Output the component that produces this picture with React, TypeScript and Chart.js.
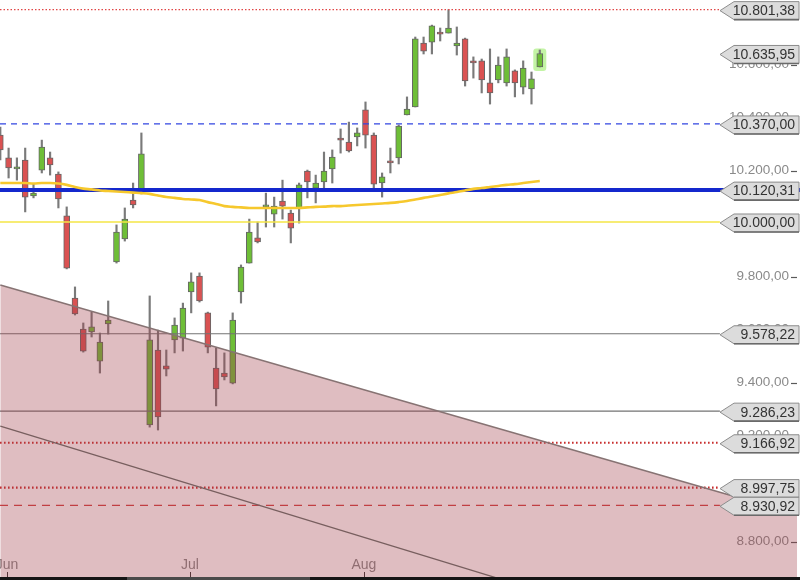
import React, { useEffect, useRef } from "react";
import { Chart, registerables } from "chart.js";

Chart.register(...registerables);

// ---- data ----
const OPEN = [10328, 10242, 10200, 10234, 10098, 10196, 10242, 10181, 10023, 9713, 9596, 9585, 9475, 9615, 9849, 9936, 10083, 10113, 9234, 9517, 9457, 9555, 9562, 9736, 9796, 9657, 9449, 9430, 9392, 9736, 9845, 9940, 10057, 10030, 10079, 10034, 10053, 10192, 10128, 10151, 10200, 10317, 10302, 10321, 10423, 10328, 10147, 10230, 10242, 10404, 10434, 10675, 10679, 10717, 10713, 10664, 10691, 10608, 10608, 10525, 10536, 10525, 10570, 10509, 10502, 10585];
const HIGH = [10358, 10279, 10242, 10279, 10143, 10309, 10264, 10189, 10057, 9755, 9619, 9660, 9581, 9702, 9989, 10053, 10147, 10336, 9721, 9592, 9517, 9638, 9694, 9808, 9808, 9660, 9525, 9506, 9657, 9838, 10011, 10000, 10109, 10094, 10158, 10045, 10147, 10196, 10177, 10264, 10272, 10351, 10377, 10355, 10453, 10336, 10185, 10279, 10366, 10472, 10698, 10698, 10743, 10732, 10801.38, 10736, 10694, 10623, 10615, 10653, 10623, 10653, 10574, 10608, 10566, 10649];
const LOW = [10234, 10166, 10158, 10038, 10091, 10185, 10177, 10053, 9823, 9649, 9509, 9566, 9430, 9577, 9845, 9928, 10053, 10106, 9226, 9215, 9419, 9506, 9513, 9657, 9698, 9506, 9306, 9404, 9389, 9694, 9845, 9921, 9981, 9981, 10011, 9921, 9996, 10091, 10072, 10121, 10147, 10260, 10264, 10287, 10279, 10128, 10094, 10185, 10219, 10404, 10434, 10634, 10634, 10683, 10713, 10630, 10513, 10543, 10487, 10445, 10525, 10513, 10472, 10483, 10445, 10585];
const CLOSE = [10272, 10204, 10208, 10094, 10109, 10283, 10215, 10087, 9826, 9653, 9513, 9604, 9547, 9630, 9962, 10011, 10064, 10257, 9555, 9264, 9445, 9611, 9675, 9774, 9702, 9528, 9370, 9415, 9630, 9830, 9962, 9925, 10064, 10060, 10060, 9977, 10140, 10151, 10147, 10192, 10245, 10309, 10268, 10336, 10328, 10143, 10170, 10223, 10362, 10426, 10691, 10645, 10740, 10709, 10732, 10675, 10532, 10600, 10536, 10487, 10592, 10623, 10525, 10581, 10540, 10635.95];
const MOVING_AVG = [10147, 10147, 10147, 10147, 10145, 10147, 10147, 10145, 10140, 10132, 10126, 10123, 10119, 10117, 10115, 10113, 10111, 10109, 10106, 10100, 10094, 10091, 10087, 10085, 10083, 10075, 10068, 10060, 10057, 10055, 10053, 10053, 10053, 10053, 10053, 10053, 10053, 10055, 10057, 10058, 10060, 10060, 10062, 10064, 10066, 10068, 10070, 10072, 10075, 10079, 10085, 10091, 10096, 10102, 10108, 10113, 10119, 10125, 10128, 10132, 10136, 10140, 10143, 10147, 10151, 10155];

const Y_TICKS = [8800, 9000, 9200, 9400, 9600, 9800, 10000, 10200, 10400, 10600, 10800];
const MONTH_LABELS = ["Jun", "Jul", "Aug"];
const MONTH_TICKS = [0.8, 22.85, 43.8];

const LEVELS = [10801.38, 10635.95, 10370.0, 10120.31, 10000.0, 9578.22, 9286.23, 9166.92, 8997.75, 8930.92];

const CHANNEL_UPPER_X = [0, 96];
const CHANNEL_UPPER_Y = [9762, 8896];
const CHANNEL_LOWER_X = [0, 60];
const CHANNEL_LOWER_Y = [9230, 8655];

// ---- layout ----
const X_MIN = -0.036;
const X_MAX = 96.35;
const Y_MIN = 8660.4;
const Y_MAX = 10837.7;
const LINE_END = 86.7;

const FONT = "'Liberation Sans', Arial, sans-serif";
const GREEN = "rgb(110,190,55)";
const RED = "rgb(218,82,82)";

// style per level (index-aligned with LEVELS); null = no line
const LEVEL_STYLES: ({ color: string; width: number; dash: number[]; full?: boolean } | null)[] = [
  { color: "rgb(225,70,70)", width: 1.2, dash: [1.5, 2] },
  null,
  { color: "rgb(50,70,225)", width: 1.3, dash: [6, 5] },
  { color: "rgb(20,40,205)", width: 4, dash: [], full: true },
  { color: "rgb(245,230,70)", width: 1.5, dash: [] },
  { color: "rgb(115,115,115)", width: 1.2, dash: [] },
  { color: "rgb(115,115,115)", width: 1.2, dash: [] },
  { color: "rgb(200,45,45)", width: 2.2, dash: [1.6, 2.4] },
  { color: "rgb(200,45,45)", width: 2.2, dash: [1.6, 2.4] },
  { color: "rgb(210,65,65)", width: 1.2, dash: [8, 6] },
];

function fmt(v: number): string {
  const s = v.toFixed(2);
  const [i, d] = s.split(".");
  return i.replace(/\B(?=(\d{3})+(?!\d))/g, ".") + "," + d;
}

const decorPlugin = {
  id: "decor",
  beforeDatasetsDraw(chart: any) {
    const { ctx, scales } = chart;
    const x = scales.x;
    const y = scales.y;
    ctx.save();
    // glow around the last candle
    const last = OPEN.length - 1;
    const gx = x.getPixelForValue(last);
    const gt = y.getPixelForValue(Math.max(OPEN[last], CLOSE[last]));
    const gb = y.getPixelForValue(Math.min(OPEN[last], CLOSE[last]));
    ctx.fillStyle = "rgba(175,240,135,0.75)";
    ctx.beginPath();
    (ctx as any).roundRect(gx - 6.5, gt - 5, 13, gb - gt + 9, 3);
    ctx.fill();

    // y tick labels
    ctx.font = "13.5px " + FONT;
    ctx.textAlign = "right";
    ctx.textBaseline = "middle";
    for (const v of Y_TICKS) {
      const py = y.getPixelForValue(v);
      ctx.fillStyle = "#8a8a8a";
      ctx.fillText(fmt(v), 789, py + 1.5);
      ctx.strokeStyle = "#5a5a5a";
      ctx.lineWidth = 1.2;
      ctx.beginPath();
      ctx.moveTo(791, py + 2.5);
      ctx.lineTo(797, py + 2.5);
      ctx.stroke();
    }
    // month labels
    ctx.font = "14px " + FONT;
    ctx.textAlign = "center";
    ctx.textBaseline = "alphabetic";
    MONTH_TICKS.forEach((m, k) => {
      const px = x.getPixelForValue(m);
      ctx.fillStyle = "#888";
      ctx.fillText(MONTH_LABELS[k], px, 569);
      ctx.strokeStyle = "#333";
      ctx.lineWidth = 1;
      ctx.beginPath();
      ctx.moveTo(Math.round(px) + 0.5, 572);
      ctx.lineTo(Math.round(px) + 0.5, 577);
      ctx.stroke();
    });
    ctx.restore();
  },
  afterDraw(chart: any) {
    const { ctx, scales } = chart;
    const y = scales.y;
    ctx.save();
    // price tags
    const tip = 720;
    const bx = 734;
    const right = 799;
    const h = 18;
    for (const v of LEVELS) {
      const c = y.getPixelForValue(v) + 1;
      ctx.beginPath();
      ctx.moveTo(tip, c);
      ctx.lineTo(bx, c - h / 2);
      ctx.lineTo(right, c - h / 2);
      ctx.lineTo(right, c + h / 2);
      ctx.lineTo(bx, c + h / 2);
      ctx.closePath();
      ctx.fillStyle = "#dcdcdc";
      ctx.fill();
      ctx.strokeStyle = "#8c8c8c";
      ctx.lineWidth = 1;
      ctx.stroke();
      ctx.strokeStyle = "#6a6a6a";
      ctx.lineWidth = 1.6;
      ctx.beginPath();
      ctx.moveTo(bx, c + h / 2);
      ctx.lineTo(right, c + h / 2);
      ctx.stroke();
      ctx.fillStyle = "#333";
      ctx.font = "14px " + FONT;
      ctx.textAlign = "right";
      ctx.textBaseline = "middle";
      ctx.fillText(fmt(v), 795, c + 0.5);
    }
    // bottom bar
    ctx.fillStyle = "#151515";
    ctx.fillRect(0, 577, 800, 3);
    ctx.fillStyle = "#4a4a4a";
    ctx.fillRect(127, 577, 183, 3);
    ctx.restore();
  },
};

export default function App() {
  const ref = useRef<HTMLCanvasElement>(null);

  useEffect(() => {
    document.body.style.margin = "0";
    const canvas = ref.current;
    if (!canvas) return;
    Chart.defaults.font.family = FONT;

    const idx = OPEN.map((_, i) => i);
    const wickData = idx.map((i) => ({ x: i, y: [LOW[i], HIGH[i]] }));
    const bodyData = idx.map((i) => ({ x: i, y: [OPEN[i], CLOSE[i]] }));
    const bodyColors = idx.map((i) => (CLOSE[i] >= OPEN[i] ? GREEN : RED));

    const levelSets: any[] = [];
    LEVELS.forEach((v, k) => {
      const st = LEVEL_STYLES[k];
      if (!st) return;
      levelSets.push({
        type: "line",
        data: [
          { x: X_MIN, y: v },
          { x: st.full ? X_MAX : LINE_END, y: v },
        ],
        borderColor: st.color,
        borderWidth: st.width,
        borderDash: st.dash,
        pointRadius: 0,
        fill: false,
        order: 1,
      });
    });

    const chart = new Chart(canvas, {
      type: "bar",
      data: {
        datasets: [
          {
            type: "line",
            data: CHANNEL_UPPER_X.map((xx, k) => ({ x: xx, y: CHANNEL_UPPER_Y[k] })),
            borderColor: "rgb(135,115,115)",
            borderWidth: 1.5,
            backgroundColor: "rgba(160,62,72,0.34)",
            fill: "start",
            pointRadius: 0,
            order: 0,
          } as any,
          {
            type: "line",
            data: CHANNEL_LOWER_X.map((xx, k) => ({ x: xx, y: CHANNEL_LOWER_Y[k] })),
            borderColor: "rgb(120,95,95)",
            borderWidth: 1.3,
            fill: false,
            pointRadius: 0,
            order: -1,
          } as any,
          {
            type: "line",
            data: MOVING_AVG.map((v, i) => ({ x: i, y: v })),
            borderColor: "rgb(246,200,45)",
            borderWidth: 2.6,
            pointRadius: 0,
            tension: 0.35,
            fill: false,
            order: 1,
          } as any,
          ...levelSets,
          {
            type: "bar",
            data: bodyData,
            backgroundColor: bodyColors,
            borderColor: "#666",
            borderWidth: 1,
            borderSkipped: false,
            barThickness: 6,
            minBarLength: 2,
            grouped: false,
            order: 2,
          } as any,
          {
            type: "bar",
            data: wickData,
            backgroundColor: "#7a7a7a",
            borderWidth: 0,
            barThickness: 1.5,
            grouped: false,
            order: 3,
          } as any,
        ],
      },
      options: {
        responsive: false,
        animation: false,
        events: [],
        layout: { padding: { left: 0, right: 0, top: 0, bottom: 3 } },
        plugins: {
          legend: { display: false },
          tooltip: { enabled: false },
        },
        scales: {
          x: {
            type: "linear",
            min: X_MIN,
            max: X_MAX,
            offset: false,
            display: false,
            grid: { display: false, offset: false },
          },
          y: {
            type: "linear",
            min: Y_MIN,
            max: Y_MAX,
            display: false,
            beginAtZero: false,
          },
        },
      } as any,
      plugins: [decorPlugin],
    });

    return () => chart.destroy();
  }, []);

  return (
    <div style={{ width: 800, height: 580 }}>
      <canvas ref={ref} width={800} height={580} style={{ display: "block" }} />
    </div>
  );
}
